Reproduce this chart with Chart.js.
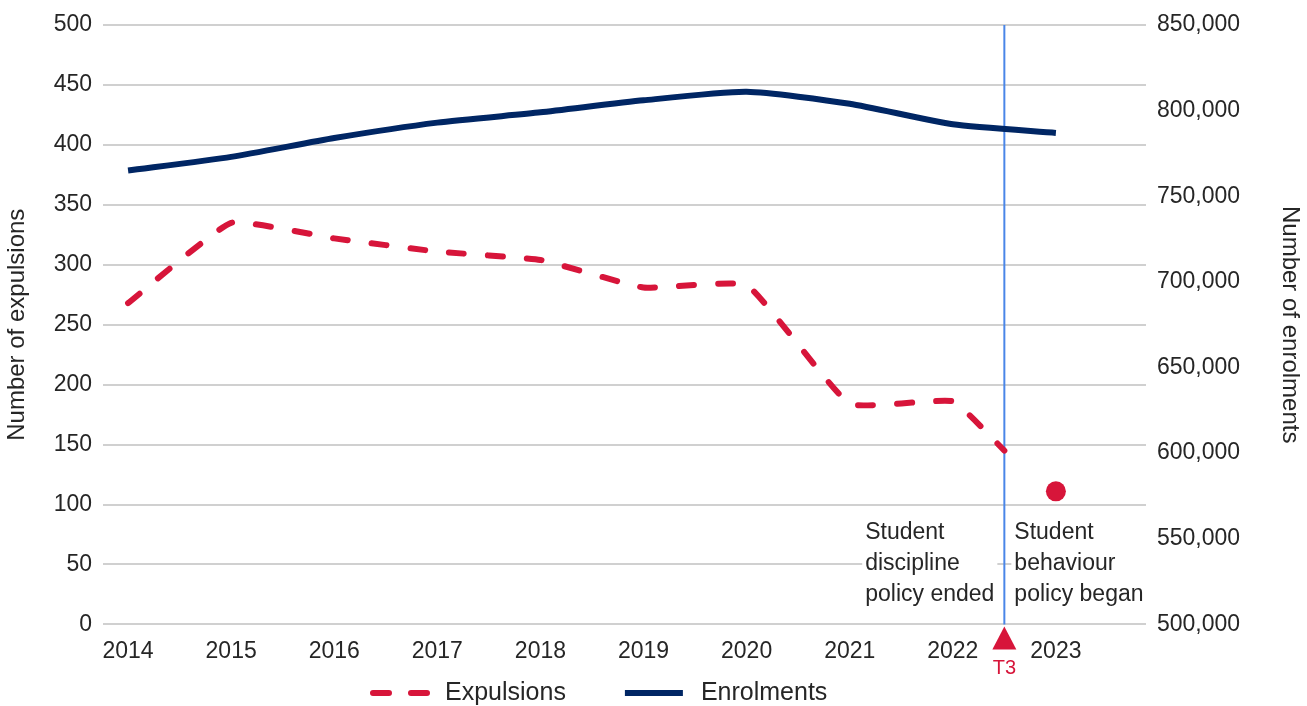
<!DOCTYPE html>
<html>
<head>
<meta charset="utf-8">
<title>Expulsions and enrolments</title>
<script src="https://cdn.jsdelivr.net/npm/chart.js@4.4.1/dist/chart.umd.min.js"></script>
<style>
  body { margin: 0; background: #fff; }
  #chart-canvas { display: block; }
</style>
</head>
<body>
<canvas id="chart-canvas" width="1307" height="706"></canvas>
<script>
"use strict";

// data
let years = [2014, 2015, 2016, 2017, 2018, 2019, 2020, 2021, 2022, 2023];
let expulsionYears = [2014, 2015, 2016, 2017, 2018, 2019, 2020, 2021, 2022, 2022.5];
let expulsions = [268, 335, 322, 311, 304, 281, 283, 184, 186, 145];
let enrolments = [765000, 773000, 784000, 793000, 799000, 806000, 811000, 804000, 792000, 787000];
let newPolicyYear = 2023;
let newPolicyExpulsions = 111;
let policyChangeYear = 2022.5;
let policyChangeLabel = "T3";
let endedNote = ["Student", "discipline", "policy ended"];
let beganNote = ["Student", "behaviour", "policy began"];

let red = "#D7153A";
let navy = "#002664";
let textColor = "#262626";
let fontFamily = "'Liberation Sans', Arial, sans-serif";

function toPoints(xs, ys) {
  let pts = [];
  for (let i = 0; i < xs.length; i++) {
    pts.push({ x: xs[i], y: ys[i] });
  }
  return pts;
}

// vertical policy line, notes, T3 marker and the legend
let policyPlugin = {
  id: "policyLine",
  beforeDatasetsDraw(chart) {
    let ctx = chart.ctx;
    let area = chart.chartArea;
    let x = chart.scales.x.getPixelForValue(policyChangeYear);

    ctx.save();
    ctx.font = "23px " + fontFamily;
    ctx.textBaseline = "middle";
    let lineH = 31;
    let firstY = area.bottom - 92;

    function noteWidth(lines) {
      let w = 0;
      for (let l of lines) w = Math.max(w, ctx.measureText(l).width);
      return w;
    }
    function drawNote(lines, left) {
      let w = noteWidth(lines);
      ctx.fillStyle = "#fff";
      ctx.fillRect(left - 3, firstY - 16, w + 6, lineH * lines.length + 2);
      ctx.fillStyle = textColor;
      ctx.textAlign = "left";
      lines.forEach(function (l, i) {
        ctx.fillText(l, left, firstY + i * lineH);
      });
    }
    drawNote(endedNote, x - 10 - noteWidth(endedNote));
    drawNote(beganNote, x + 10);

    ctx.strokeStyle = "#4A86E8";
    ctx.lineWidth = 2;
    ctx.beginPath();
    ctx.moveTo(x, area.top);
    ctx.lineTo(x, area.bottom);
    ctx.stroke();
    ctx.restore();
  },
  afterDraw(chart) {
    let ctx = chart.ctx;
    let area = chart.chartArea;
    let x = chart.scales.x.getPixelForValue(policyChangeYear);
    ctx.save();
    ctx.fillStyle = red;
    ctx.beginPath();
    ctx.moveTo(x, area.bottom + 2);
    ctx.lineTo(x + 12, area.bottom + 25);
    ctx.lineTo(x - 12, area.bottom + 25);
    ctx.closePath();
    ctx.fill();
    ctx.font = "20px " + fontFamily;
    ctx.textAlign = "center";
    ctx.textBaseline = "middle";
    ctx.fillText(policyChangeLabel, x, area.bottom + 44);

    // legend
    let ly = chart.height - 13;
    let lx = area.left + 267;
    ctx.font = "25px " + fontFamily;
    ctx.textAlign = "left";
    ctx.lineWidth = 6;
    let items = chart.data.datasets.slice(0, 2);
    items.forEach(function (ds) {
      let w = ds.borderDash ? 60 : 64;
      ctx.strokeStyle = ds.borderColor;
      ctx.lineCap = ds.borderDash ? "round" : "butt";
      ctx.setLineDash(ds.borderDash ? [16, 22] : []);
      ctx.beginPath();
      ctx.moveTo(lx + 3, ly);
      ctx.lineTo(lx + w - 3, ly);
      ctx.stroke();
      ctx.setLineDash([]);
      ctx.fillStyle = textColor;
      ctx.fillText(ds.label, lx + w + 15, ly);
      lx += w + 15 + ctx.measureText(ds.label).width + 56;
    });
    ctx.restore();
  },
};

let tickFont = { family: fontFamily, size: 23 };
let titleFont = { family: fontFamily, size: 24 };

let ctx = document.getElementById("chart-canvas");
let chart = new Chart(ctx, {
  type: "line",
  data: {
    datasets: [
      {
        label: "Expulsions",
        data: toPoints(expulsionYears, expulsions),
        yAxisID: "yL",
        borderColor: red,
        backgroundColor: red,
        borderWidth: 6,
        borderDash: [15, 24],
        borderCapStyle: "round",
        tension: 0.12,
        pointRadius: 0,
        order: 2,
      },
      {
        label: "Enrolments",
        data: toPoints(years, enrolments),
        yAxisID: "yR",
        borderColor: navy,
        backgroundColor: navy,
        borderWidth: 6,
        borderCapStyle: "butt",
        tension: 0.2,
        pointRadius: 0,
        order: 1,
      },
      {
        label: "Expulsions (new policy)",
        data: [{ x: newPolicyYear, y: newPolicyExpulsions }],
        yAxisID: "yL",
        showLine: false,
        pointRadius: 10,
        pointBackgroundColor: red,
        pointBorderWidth: 0,
        order: 3,
      },
    ],
  },
  options: {
    responsive: false,
    animation: false,
    events: [],
    layout: { padding: { top: 25, left: 0, right: 0, bottom: 28 } },
    plugins: {
      tooltip: { enabled: false },
      legend: { display: false },
    },
    scales: {
      x: {
        type: "linear",
        min: 2013.757,
        max: 2023.874,
        afterBuildTicks: function (scale) {
          scale.ticks = years.map(function (y) { return { value: y }; });
        },
        grid: { display: false, drawTicks: false },
        border: { display: false },
        ticks: {
          padding: 13,
          color: textColor,
          font: tickFont,
          maxRotation: 0,
          autoSkip: false,
          callback: function (v) { return String(v); },
        },
      },
      yL: {
        position: "left",
        min: 0,
        max: 500,
        afterFit: function (scale) { scale.width = 103; },
        grid: { color: "#D0D0D0", lineWidth: 2, drawTicks: false },
        border: { display: false },
        ticks: { stepSize: 50, padding: 11, color: textColor, font: tickFont },
        title: {
          display: true,
          text: "Number of expulsions",
          color: textColor,
          font: titleFont,
          padding: { top: 3, bottom: 0 },
        },
      },
      yR: {
        position: "right",
        min: 500000,
        max: 850000,
        afterFit: function (scale) { scale.width = 161; },
        grid: { display: false, drawTicks: false },
        border: { display: false },
        ticks: {
          stepSize: 50000,
          padding: 11,
          color: textColor,
          font: tickFont,
          callback: function (v) { return v.toLocaleString("en-US"); },
        },
        title: {
          display: true,
          text: "Number of enrolments",
          color: textColor,
          font: titleFont,
          padding: { top: 3, bottom: 0 },
        },
      },
    },
  },
  plugins: [policyPlugin],
});
</script>
</body>
</html>
